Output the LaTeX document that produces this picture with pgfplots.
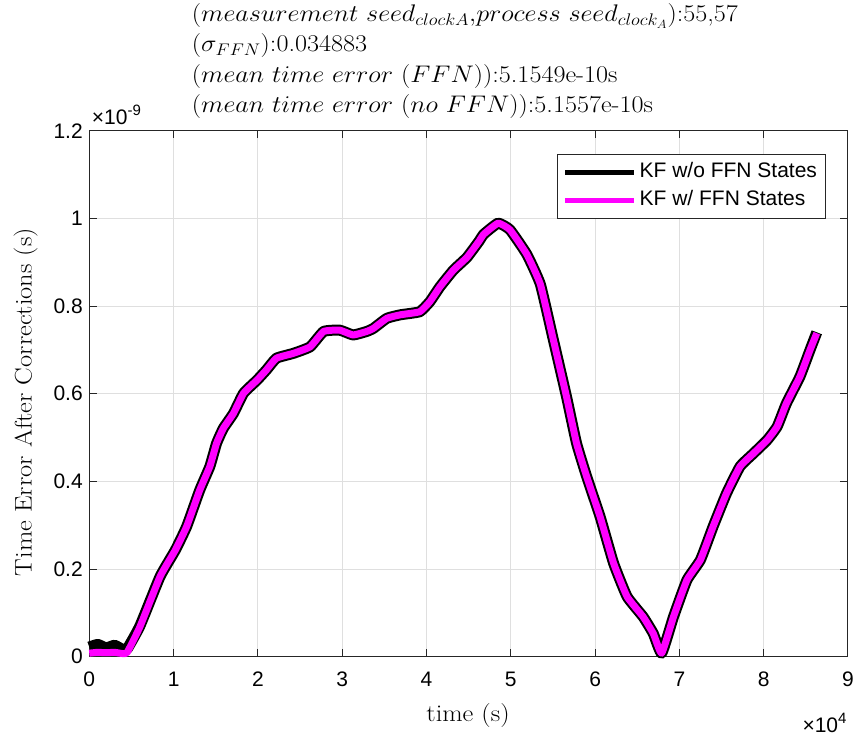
\RequirePackage{fix-cm}
\documentclass[border=0pt]{standalone}
\usepackage{fontspec}
\usepackage{graphicx}
\usepackage{pgfplots}
\pgfplotsset{compat=1.18}
\newfontfamily\arial{Liberation Sans}
\definecolor{axgray}{HTML}{262626}
\definecolor{gridgray}{HTML}{DFDFDF}
\definecolor{mag}{HTML}{FF00FF}
\newcommand{\wide}[1]{\scalebox{1.09}[1]{#1}}
\pgfplotstableread{
x y
0 0.022
0.1 0.028
0.2 0.020
0.3 0.026
0.4 0.016
0.45 0.018
0.6 0.070
0.84 0.183
1.02 0.243
1.155 0.297
1.31 0.380
1.43 0.434
1.51 0.487
1.59 0.521
1.71 0.555
1.83 0.601
1.99 0.631
2.10 0.654
2.22 0.681
2.42 0.692
2.62 0.707
2.78 0.742
2.97 0.745
3.13 0.734
3.29 0.742
3.37 0.749
3.53 0.772
3.69 0.780
3.92 0.787
4.04 0.810
4.16 0.844
4.32 0.882
4.48 0.911
4.62 0.947
4.68 0.964
4.85 0.989
4.99 0.974
5.19 0.918
5.35 0.850
5.50 0.727
5.66 0.594
5.78 0.487
5.90 0.411
6.06 0.319
6.22 0.213
6.38 0.137
6.57 0.091
6.69 0.053
6.79 0.008
6.93 0.091
7.09 0.175
7.25 0.221
7.40 0.297
7.56 0.373
7.72 0.434
7.88 0.464
8.04 0.494
8.16 0.525
8.27 0.578
8.43 0.639
8.55 0.700
8.63 0.740
}\nofnf
\pgfplotstableread{
x y
0 0.008
0.1 0.010
0.2 0.009
0.3 0.010
0.4 0.007
0.45 0.010
0.6 0.068
0.84 0.183
1.02 0.243
1.155 0.297
1.31 0.380
1.43 0.434
1.51 0.487
1.59 0.521
1.71 0.555
1.83 0.601
1.99 0.631
2.10 0.654
2.22 0.681
2.42 0.692
2.62 0.707
2.78 0.742
2.97 0.745
3.13 0.734
3.29 0.742
3.37 0.749
3.53 0.772
3.69 0.780
3.92 0.787
4.04 0.810
4.16 0.844
4.32 0.882
4.48 0.911
4.62 0.947
4.68 0.964
4.85 0.989
4.99 0.974
5.19 0.918
5.35 0.850
5.50 0.727
5.66 0.594
5.78 0.487
5.90 0.411
6.06 0.319
6.22 0.213
6.38 0.137
6.57 0.091
6.69 0.053
6.79 0.008
6.93 0.091
7.09 0.175
7.25 0.221
7.40 0.297
7.56 0.373
7.72 0.434
7.88 0.464
8.04 0.494
8.16 0.525
8.27 0.578
8.43 0.639
8.55 0.700
8.63 0.738
}\ffn
\begin{document}
\begin{tikzpicture}
\begin{axis}[
  at={(89.3pt,79.3pt)}, anchor=south west,
  width=758.7pt, height=526pt, scale only axis,
  xmin=0, xmax=9, ymin=0, ymax=1.2,
  xtick={0,1,2,3,4,5,6,7,8,9},
  xticklabels={0,1,2,3,4,5,6,7,8,9},
  ytick={0,0.2,0.4,0.6,0.8,1,1.2},
  yticklabels={0,0.2,0.4,0.6,0.8,1,1.2},
  ticklabel style={font=\arial\fontsize{21}{21}\selectfont, text=black},
  xticklabel style={yshift=-12pt},
  yticklabel style={xshift=-3pt},
  grid=major,
  major grid style={gridgray, line width=1pt},
  axis line style={axgray, line width=1pt},
  tick style={axgray, line width=1pt},
  major tick length=7.6pt,
  tick align=inside,
  xtick pos=both, ytick pos=both,
  clip=false,
  legend cell align=left,
  legend image code/.code={\draw[#1, line width=5pt] (0pt,0pt) -- (69pt,0pt);},
  legend style={at={(rel axis cs:0.971,0.9557)}, anchor=north east,
    draw=axgray, line width=1pt, fill=white,
    font=\arial\fontsize{21}{21}\selectfont,
    inner xsep=5.5pt, inner ysep=5pt, row sep=2.3pt,
    nodes={inner sep=3pt, text height=15pt, text depth=5pt}},
]
\addplot[black, line width=11pt, line join=round, line cap=butt, smooth, tension=0.25] table {\nofnf};
\addlegendentry{KF w/o FFN States}
\addplot[mag, line width=7pt, line join=round, line cap=butt, smooth, tension=0.25] table {\ffn};
\addlegendentry{KF w/ FFN States}
\end{axis}
% axis exponents
\node[anchor=base west, inner sep=0pt, font=\arial\fontsize{21}{21}\selectfont] at (91.7pt,611pt) {×10\raisebox{0.45em}{\fontsize{15}{15}\selectfont -9}};
\node[anchor=base east, inner sep=0pt, font=\arial\fontsize{21}{21}\selectfont] at (846.7pt,3pt) {×10\raisebox{0.45em}{\fontsize{15}{15}\selectfont 4}};
% title lines
\begin{scope}[every node/.style={anchor=base west, inner sep=0pt, font=\fontsize{24}{24}\selectfont}]
\node at (191.7pt,714pt) {\wide{$(measurement\ seed_{clockA}{,}process\ seed_{clock_A})$:55,57}};
\node at (191.7pt,684pt) {\wide{$(\sigma_{FFN})$:0.034883}};
\node at (191.7pt,653pt) {\wide{$(mean\ time\ error\ (FFN))$:5.1549e-10s}};
\node at (191.7pt,623pt) {\wide{$(mean\ time\ error\ (no\ FFN))$:5.1557e-10s}};
\end{scope}
% axis labels
\node[anchor=base, inner sep=0pt, font=\fontsize{24}{24}\selectfont] at (468pt,14.3pt) {\scalebox{1.1}[1]{time (s)}};
\node[anchor=base, rotate=90, inner sep=0pt, font=\fontsize{24}{24}\selectfont] at (31.7pt,334pt) {\scalebox{1.1}[1]{Time Error After Corrections (s)}};
\pgfresetboundingbox
\useasboundingbox (0pt,0pt) rectangle (855pt,736pt);
\end{tikzpicture}
\end{document}
